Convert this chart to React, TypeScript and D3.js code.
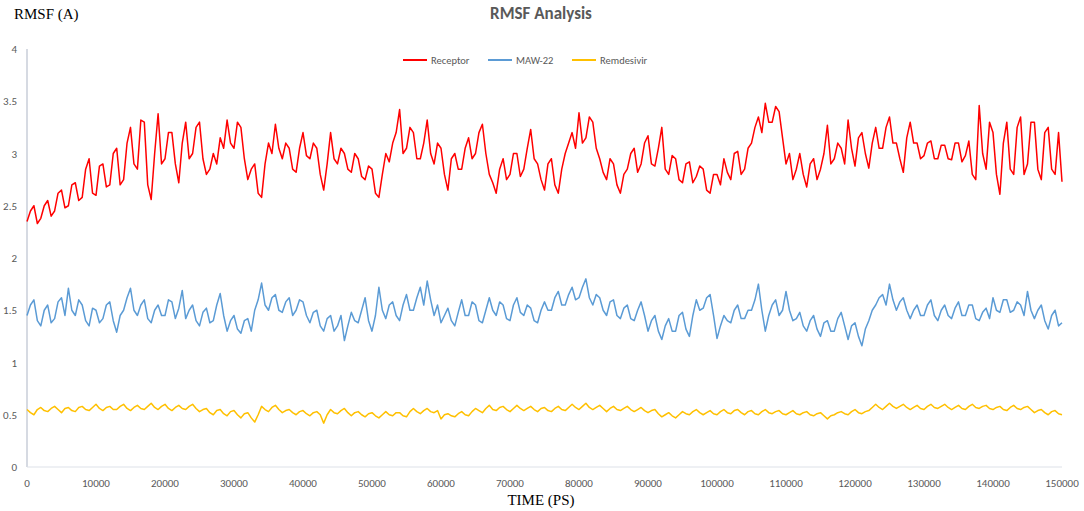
import React from "react";
import * as d3 from "d3";

const times: number[] = d3.range(0, 150001, 500);

const receptor: number[] = [
  2.35, 2.45, 2.5, 2.33, 2.38, 2.5, 2.55, 2.4, 2.45, 2.62, 2.65, 2.48, 2.5, 2.7, 2.72, 2.55, 2.58, 2.85, 2.95, 2.62,
  2.6, 2.88, 2.9, 2.68, 2.7, 3.0, 3.05, 2.7, 2.75, 3.1, 3.25, 2.9, 2.85, 3.32, 3.3, 2.7, 2.56, 3.0, 3.38, 2.9,
  2.95, 3.2, 3.2, 2.9, 2.72, 3.1, 3.3, 2.95, 3.0, 3.25, 3.3, 2.95, 2.8, 2.85, 3.0, 2.9, 3.15, 3.05, 3.32, 3.1,
  3.05, 3.3, 3.25, 2.95, 2.75, 2.85, 2.9, 2.62, 2.58, 2.9, 3.1, 3.0, 3.28, 3.05, 2.95, 3.1, 3.05, 2.85, 2.82, 3.05,
  3.2, 2.98, 2.95, 3.1, 3.05, 2.8, 2.65, 2.9, 3.2, 2.95, 2.9, 3.05, 3.0, 2.85, 2.82, 3.0, 2.95, 2.78, 2.75, 2.88,
  2.85, 2.62, 2.58, 2.8, 3.0, 2.92, 3.1, 3.2, 3.42, 3.0, 3.05, 3.25, 3.2, 2.95, 2.95, 3.1, 3.32, 3.0, 2.9, 3.1,
  3.05, 2.8, 2.65, 2.95, 3.0, 2.85, 2.85, 3.05, 3.15, 2.95, 3.0, 3.2, 3.28, 3.0, 2.8, 2.72, 2.62, 2.85, 2.95, 2.75,
  2.8, 3.0, 3.0, 2.78, 2.85, 3.05, 3.23, 2.95, 2.9, 2.75, 2.65, 2.9, 2.95, 2.7, 2.62, 2.85, 3.0, 3.1, 3.2, 3.05,
  3.39, 3.1, 3.15, 3.35, 3.3, 3.05, 2.95, 2.82, 2.75, 2.95, 2.9, 2.7, 2.62, 2.8, 2.85, 3.0, 3.05, 2.82, 2.9, 3.1,
  3.17, 2.9, 2.88, 3.05, 3.25, 2.85, 2.8, 2.98, 2.95, 2.75, 2.72, 2.9, 2.92, 2.72, 2.78, 2.88, 2.85, 2.65, 2.62, 2.8,
  2.8, 2.7, 2.95, 2.82, 2.75, 3.0, 3.02, 2.8, 2.85, 3.05, 3.1, 3.25, 3.35, 3.2, 3.48, 3.3, 3.3, 3.45, 3.4, 3.15,
  2.9, 3.0, 2.75, 2.85, 3.0, 2.8, 2.68, 2.9, 2.95, 2.75, 2.85, 3.0, 3.27, 2.9, 2.95, 3.1, 3.05, 2.9, 3.32, 3.05,
  2.88, 3.15, 3.2, 3.0, 2.86, 3.1, 3.25, 3.05, 3.05, 3.25, 3.35, 3.1, 3.1, 2.95, 2.82, 3.15, 3.3, 3.1, 3.1, 2.95,
  2.98, 3.1, 3.12, 2.95, 2.95, 3.08, 3.08, 2.95, 2.94, 3.1, 3.1, 2.92, 2.98, 3.12, 2.8, 2.75, 3.46, 3.0, 2.85, 3.3,
  3.2, 2.8, 2.61, 3.1, 3.3, 2.85, 2.8, 3.25, 3.35, 2.8, 2.9, 3.3, 3.3, 2.85, 2.75, 3.2, 3.25, 2.85, 2.8, 3.2,
  2.73,
];

const maw22: number[] = [
  1.45, 1.55, 1.6, 1.4, 1.35, 1.5, 1.55, 1.38, 1.42, 1.58, 1.62, 1.45, 1.71, 1.5, 1.45, 1.6, 1.55, 1.4, 1.35, 1.52,
  1.5, 1.38, 1.42, 1.55, 1.58, 1.4, 1.29, 1.45, 1.5, 1.62, 1.71, 1.5, 1.45, 1.55, 1.6, 1.42, 1.38, 1.5, 1.55, 1.45,
  1.45, 1.6, 1.58, 1.42, 1.52, 1.69, 1.42, 1.5, 1.55, 1.4, 1.35, 1.48, 1.52, 1.38, 1.4, 1.55, 1.66, 1.45, 1.3, 1.4,
  1.45, 1.32, 1.28, 1.4, 1.42, 1.3, 1.5, 1.6, 1.76, 1.55, 1.5, 1.62, 1.65, 1.5, 1.48, 1.58, 1.62, 1.45, 1.5, 1.6,
  1.58, 1.45, 1.38, 1.48, 1.5, 1.35, 1.3, 1.42, 1.45, 1.3, 1.35, 1.45, 1.21, 1.35, 1.48, 1.4, 1.38, 1.5, 1.62, 1.4,
  1.3, 1.45, 1.72, 1.5, 1.42, 1.55, 1.58, 1.45, 1.4, 1.55, 1.65, 1.5, 1.5, 1.62, 1.72, 1.55, 1.78, 1.6, 1.45, 1.55,
  1.38, 1.45, 1.52, 1.4, 1.35, 1.48, 1.6, 1.45, 1.45, 1.58, 1.55, 1.4, 1.38, 1.5, 1.62, 1.5, 1.45, 1.58, 1.55, 1.42,
  1.4, 1.55, 1.62, 1.48, 1.45, 1.55, 1.52, 1.4, 1.38, 1.5, 1.58, 1.5, 1.5, 1.62, 1.68, 1.55, 1.55, 1.65, 1.72, 1.6,
  1.62, 1.72, 1.8, 1.62, 1.55, 1.65, 1.62, 1.5, 1.45, 1.58, 1.6, 1.45, 1.42, 1.52, 1.55, 1.42, 1.4, 1.5, 1.58, 1.45,
  1.3, 1.4, 1.45, 1.3, 1.22, 1.35, 1.42, 1.3, 1.3, 1.45, 1.48, 1.32, 1.25, 1.45, 1.6, 1.5, 1.52, 1.62, 1.65, 1.45,
  1.23, 1.35, 1.45, 1.4, 1.38, 1.5, 1.55, 1.42, 1.42, 1.5, 1.5, 1.6, 1.75, 1.5, 1.3, 1.45, 1.55, 1.6, 1.45, 1.5,
  1.68, 1.5, 1.4, 1.42, 1.48, 1.35, 1.3, 1.4, 1.45, 1.32, 1.25, 1.38, 1.4, 1.3, 1.3, 1.42, 1.48, 1.35, 1.22, 1.35,
  1.38, 1.25, 1.16, 1.32, 1.4, 1.5, 1.55, 1.62, 1.65, 1.55, 1.75, 1.6, 1.5, 1.58, 1.62, 1.5, 1.42, 1.5, 1.55, 1.45,
  1.45, 1.55, 1.6, 1.45, 1.4, 1.5, 1.55, 1.45, 1.42, 1.52, 1.58, 1.45, 1.45, 1.55, 1.55, 1.42, 1.4, 1.48, 1.52, 1.42,
  1.62, 1.5, 1.48, 1.6, 1.6, 1.48, 1.5, 1.58, 1.55, 1.45, 1.68, 1.5, 1.42, 1.5, 1.55, 1.4, 1.32, 1.45, 1.5, 1.35,
  1.38,
];

const remdesivir: number[] = [
  0.55, 0.52, 0.5, 0.55, 0.57, 0.54, 0.53, 0.56, 0.58, 0.55, 0.52, 0.56, 0.57, 0.54, 0.53, 0.57, 0.58, 0.55, 0.54, 0.57,
  0.6, 0.56, 0.54, 0.57, 0.58, 0.55, 0.55, 0.58, 0.6, 0.56, 0.54, 0.57, 0.59, 0.56, 0.55, 0.58, 0.61, 0.57, 0.55, 0.58,
  0.6, 0.56, 0.54, 0.57, 0.59, 0.56, 0.55, 0.58, 0.6, 0.56, 0.53, 0.55, 0.56, 0.52, 0.5, 0.54, 0.55, 0.51, 0.49, 0.53,
  0.54, 0.5, 0.47, 0.51, 0.52, 0.47, 0.43, 0.5, 0.58, 0.55, 0.53, 0.57, 0.59, 0.55, 0.52, 0.54, 0.55, 0.52, 0.5, 0.53,
  0.54, 0.51, 0.49, 0.52, 0.53, 0.5, 0.42, 0.5, 0.55, 0.52, 0.51, 0.54, 0.56, 0.52, 0.49, 0.52, 0.53, 0.5, 0.48, 0.51,
  0.52, 0.49, 0.47, 0.5, 0.53, 0.5, 0.49, 0.52, 0.52, 0.49, 0.48, 0.53, 0.56, 0.53, 0.51, 0.54, 0.56, 0.53, 0.52, 0.54,
  0.46, 0.5, 0.51, 0.49, 0.48, 0.51, 0.53, 0.5, 0.49, 0.53, 0.56, 0.54, 0.52, 0.56, 0.59, 0.55, 0.54, 0.57, 0.58, 0.55,
  0.53, 0.56, 0.59, 0.56, 0.54, 0.56, 0.58, 0.55, 0.53, 0.56, 0.57, 0.54, 0.53, 0.56, 0.58, 0.55, 0.54, 0.57, 0.6, 0.57,
  0.55, 0.58, 0.61, 0.57, 0.55, 0.57, 0.59, 0.56, 0.53, 0.56, 0.58, 0.55, 0.54, 0.56, 0.58, 0.55, 0.53, 0.55, 0.57, 0.54,
  0.52, 0.54, 0.55, 0.51, 0.48, 0.5, 0.52, 0.49, 0.47, 0.5, 0.53, 0.51, 0.5, 0.53, 0.55, 0.52, 0.5, 0.52, 0.54, 0.51,
  0.5, 0.53, 0.55, 0.52, 0.51, 0.54, 0.55, 0.52, 0.5, 0.53, 0.54, 0.51, 0.5, 0.53, 0.55, 0.52, 0.51, 0.53, 0.54, 0.51,
  0.5, 0.52, 0.54, 0.51, 0.5, 0.52, 0.53, 0.5, 0.49, 0.51, 0.52, 0.49, 0.46, 0.49, 0.5, 0.52, 0.53, 0.51, 0.5, 0.53,
  0.55, 0.52, 0.51, 0.53, 0.54, 0.57, 0.6, 0.57, 0.55, 0.58, 0.61, 0.58, 0.56, 0.58, 0.6, 0.57, 0.55, 0.57, 0.59, 0.56,
  0.55, 0.58, 0.6, 0.57, 0.56, 0.58, 0.6, 0.57, 0.55, 0.57, 0.59, 0.56, 0.55, 0.58, 0.6, 0.57, 0.56, 0.58, 0.59, 0.56,
  0.55, 0.57, 0.58, 0.55, 0.54, 0.57, 0.59, 0.56, 0.55, 0.57, 0.58, 0.55, 0.52, 0.54, 0.55, 0.52, 0.5, 0.53, 0.54, 0.51,
  0.5,
];

const seriesNames = ["Receptor", "MAW-22", "Remdesivir"];
const seriesColors = ["#ff0000", "#5b9bd5", "#ffc000"];
const xTicks: number[] = d3.range(0, 150001, 10000);
const yTicks: number[] = [0, 0.5, 1, 1.5, 2, 2.5, 3, 3.5, 4];

const W = 1084;
const H = 511;
const left = 27;
const right = 1062;
const top = 49;
const bottom = 467;

export default function App() {
  const x = d3.scaleLinear().domain([0, 150000]).range([left, right]);
  const y = d3.scaleLinear().domain([0, 4]).range([bottom, top]);
  const allSeries = [receptor, maw22, remdesivir];
  const line = d3
    .line<number>()
    .x((_, i) => x(times[i]))
    .y((d) => y(d));

  const legendX = [403, 488, 572];
  const sans = "Calibri, Carlito, 'Liberation Sans', 'Open Sans', Arial, sans-serif";
  const serif = "'Times New Roman', 'Liberation Serif', 'DejaVu Serif', serif";

  return (
    <svg
      width={W}
      height={H}
      style={{ position: "absolute", left: 0, top: 0, background: "#fff" }}
    >
      <rect x={0} y={0} width={W} height={H} fill="#fff" />
      <text
        x={541}
        y={19}
        textAnchor="middle"
        fontFamily={sans}
        fontWeight="bold"
        fontSize={17}
        fill="#595959"
      >
        RMSF Analysis
      </text>
      <text x={14} y={19} fontFamily={serif} fontSize={15} fill="#000">
        RMSF (A)
      </text>
      <text x={541} y={505} textAnchor="middle" fontFamily={serif} fontSize={15} fill="#000">
        TIME (PS)
      </text>

      <line x1={left} x2={left} y1={top} y2={bottom} stroke="#c9ced8" strokeWidth={1.5} />
      <line x1={left} x2={right} y1={bottom} y2={bottom} stroke="#dde1e8" strokeWidth={1} />

      {yTicks.map((t) => (
        <text
          key={"y" + t}
          x={17}
          y={y(t) + 4}
          textAnchor="end"
          fontFamily={sans}
          fontSize={11}
          fill="#595959"
        >
          {t}
        </text>
      ))}
      {xTicks.map((t) => (
        <text
          key={"x" + t}
          x={x(t)}
          y={487}
          textAnchor="middle"
          fontFamily={sans}
          fontSize={11}
          fill="#595959"
        >
          {t}
        </text>
      ))}

      {allSeries.map((s, i) => (
        <path
          key={seriesNames[i]}
          d={line(s) || ""}
          fill="none"
          stroke={seriesColors[i]}
          strokeWidth={1.5}
          strokeLinejoin="round"
        />
      ))}

      {seriesNames.map((n, i) => (
        <g key={"lg" + n}>
          <line
            x1={legendX[i]}
            x2={legendX[i] + 24}
            y1={60}
            y2={60}
            stroke={seriesColors[i]}
            strokeWidth={2}
          />
          <text
            x={legendX[i] + 28}
            y={64}
            fontFamily={sans}
            fontSize={10.5}
            fill="#595959"
          >
            {n}
          </text>
        </g>
      ))}
    </svg>
  );
}
